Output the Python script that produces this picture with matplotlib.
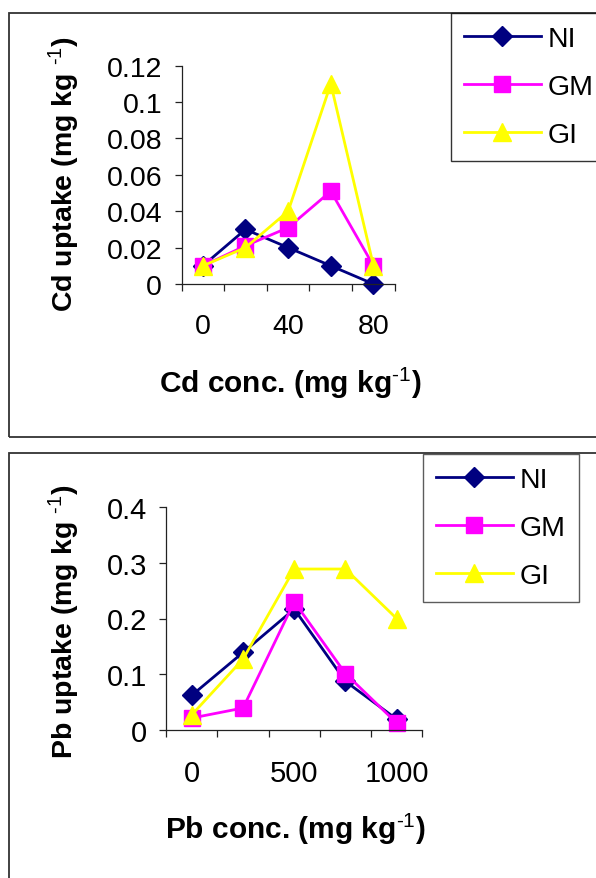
import matplotlib
matplotlib.use('Agg')
import matplotlib.pyplot as plt
from matplotlib.patches import Rectangle
import numpy as np

plt.rcParams['font.family'] = ['Liberation Sans', 'DejaVu Sans']
plt.rcParams['mathtext.fontset'] = 'custom'
plt.rcParams['mathtext.rm'] = 'Liberation Sans'
plt.rcParams['mathtext.bf'] = 'Liberation Sans:bold'
plt.rcParams['mathtext.it'] = 'Liberation Sans:italic'

# ---- data ----
series_names = ['NI', 'GM', 'GI']

cd_conc = ['0', '20', '40', '60', '80']
cd_ni = [0.01, 0.03, 0.02, 0.01, 0.0]
cd_gm = [0.01, 0.021, 0.031, 0.051, 0.01]
cd_gi = [0.01, 0.02, 0.04, 0.11, 0.01]
cd_yticks = [0, 0.02, 0.04, 0.06, 0.08, 0.1, 0.12]
cd_ytick_labels = ['0', '0.02', '0.04', '0.06', '0.08', '0.1', '0.12']

pb_conc = ['0', '250', '500', '750', '1000']
pb_ni = [0.062, 0.139, 0.217, 0.087, 0.019]
pb_gm = [0.021, 0.039, 0.23, 0.101, 0.012]
pb_gi = [0.027, 0.127, 0.289, 0.289, 0.2]
pb_yticks = [0, 0.1, 0.2, 0.3, 0.4]
pb_ytick_labels = ['0', '0.1', '0.2', '0.3', '0.4']

colors = ['#000080', '#FF00FF', '#FFFF00']
markers = ['D', 's', '^']
msizes = [10, 12, 13.5]

W, H = 596, 879
fig = plt.figure(figsize=(W / 100, H / 100), dpi=100)


def fx(px):
    return px / W


def fy(py):
    return 1 - py / H


# panel frames
fig.add_artist(Rectangle((fx(9), fy(437.7)), 1.2, fy(14) - fy(437.7),
                         transform=fig.transFigure, fill=False,
                         edgecolor='#333333', linewidth=1.3, zorder=0))
fig.add_artist(Rectangle((fx(9), -0.2), 1.2, fy(454.3) + 0.2,
                         transform=fig.transFigure, fill=False,
                         edgecolor='#333333', linewidth=1.3, zorder=0))

SUP = r'$^{\text{-1}}$'


def make_panel(rect, cats, series, yticks, ylabels, ymax, tick_fs):
    ax = fig.add_axes(rect)
    ax.patch.set_alpha(0)
    x = np.arange(len(cats))
    lines = []
    for vals, c, m, ms, name in zip(series, colors, markers, msizes, series_names):
        ln, = ax.plot(x, vals, color=c, marker=m, markersize=ms,
                      markerfacecolor=c, markeredgecolor=c, linewidth=2,
                      label=name, clip_on=False)
        lines.append(ln)
    ax.set_xlim(-0.5, len(cats) - 0.5)
    ax.set_ylim(0, ymax)
    for s in ['top', 'right']:
        ax.spines[s].set_visible(False)
    for s in ['left', 'bottom']:
        ax.spines[s].set_color('#222222')
        ax.spines[s].set_linewidth(0.9)
    ax.set_yticks(yticks)
    ax.set_yticklabels(ylabels)
    ax.tick_params(axis='y', direction='out', length=5, width=0.9,
                   color='#222222', pad=9, labelsize=tick_fs)
    ax.set_xticks(np.arange(-0.5, len(cats), 1.0))
    ax.set_xticklabels([])
    ax.tick_params(axis='x', which='major', direction='out', length=5,
                   width=0.9, color='#222222')
    shown = [i for i in range(len(cats)) if i % 2 == 0]
    ax.set_xticks(shown, minor=True)
    ax.set_xticklabels([cats[i] for i in shown], minor=True)
    ax.tick_params(axis='x', which='minor', length=0, pad=21,
                   labelsize=tick_fs)
    return ax, lines


# ---- Cd panel ----
ax1, l1 = make_panel([fx(181.5), fy(285), fx(394.8) - fx(181.5), fy(66.7) - fy(285)],
                     cd_conc, [cd_ni, cd_gm, cd_gi], cd_yticks, cd_ytick_labels,
                     0.12, 20.5)
fig.text(fx(290), fy(383), 'Cd conc. (mg kg' + SUP + ')', ha='center',
         va='center', fontsize=21.5, fontweight='bold')
fig.text(fx(64.5), fy(174), 'Cd uptake (mg kg ' + SUP + ')', ha='center',
         va='center', fontsize=20.5, fontweight='bold', rotation=90)
leg1 = fig.legend(handles=l1, loc='upper left',
                  bbox_to_anchor=(fx(451), fy(14)), borderaxespad=0,
                  fontsize=20.5, frameon=True, fancybox=False, edgecolor='black',
                  handlelength=2.7, handletextpad=0.25, labelspacing=0.78,
                  borderpad=0.45)
leg1.get_frame().set_linewidth(1.0)

# ---- Pb panel ----
ax2, l2 = make_panel([fx(166.3), fy(730.7), fx(422.2) - fx(166.3), fy(508.3) - fy(730.7)],
                     pb_conc, [pb_ni, pb_gm, pb_gi], pb_yticks, pb_ytick_labels,
                     0.4, 21)
fig.text(fx(295), fy(829), 'Pb conc. (mg kg' + SUP + ')', ha='center',
         va='center', fontsize=21.5, fontweight='bold')
fig.text(fx(64.5), fy(622), 'Pb uptake (mg kg ' + SUP + ')', ha='center',
         va='center', fontsize=20.5, fontweight='bold', rotation=90)
leg2 = fig.legend(handles=l2, loc='upper left',
                  bbox_to_anchor=(fx(423), fy(455)), borderaxespad=0,
                  fontsize=20.5, frameon=True, fancybox=False, edgecolor='#333333',
                  handlelength=2.7, handletextpad=0.25, labelspacing=0.78,
                  borderpad=0.45)
leg2.get_frame().set_linewidth(1.0)

fig.savefig('out.png', dpi=100, facecolor='white')
